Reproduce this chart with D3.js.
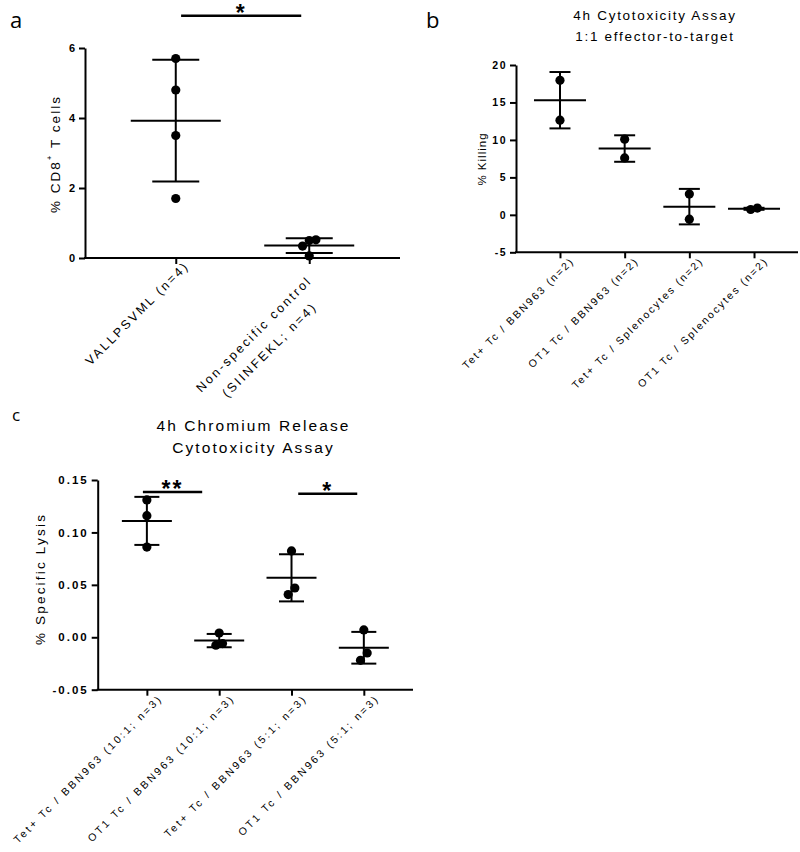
<!DOCTYPE html>
<html>
<head>
<meta charset="utf-8">
<script src="https://cdn.jsdelivr.net/npm/d3@7/dist/d3.min.js"></script>
<style>
  html, body { margin: 0; padding: 0; background: #fff; }
  svg { display: block; }
  text { font-family: "Liberation Sans", Arial, sans-serif; fill: #000; }
</style>
</head>
<body>
<svg id="chart" width="800" height="852"></svg>
<script>
// ---------------- DATA ----------------
const aCategories = ["VALLPSVML (n=4)", "Non-specific control\n(SIINFEKL; n=4)"];
const aValues = [[5.7, 4.8, 3.5, 1.7], [0.52, 0.5, 0.34, 0.06]];
const aTicks = [0, 2, 4, 6];
const aSig = [{ from: 0, to: 1, label: "*" }];

const bTitle = ["4h Cytotoxicity Assay", "1:1 effector-to-target"];
const bCategories = ["Tet+ Tc / BBN963 (n=2)", "OT1 Tc / BBN963 (n=2)", "Tet+ Tc / Splenocytes (n=2)", "OT1 Tc / Splenocytes (n=2)"];
const bValues = [[17.96, 12.64], [10.1, 7.6], [2.77, -0.58], [0.71, 0.9]];
const bTicks = [-5, 0, 5, 10, 15, 20];

const cTitle = ["4h Chromium Release", "Cytotoxicity Assay"];
const cCategories = ["Tet+ Tc / BBN963 (10:1; n=3)", "OT1 Tc / BBN963 (10:1; n=3)", "Tet+ Tc / BBN963 (5:1; n=3)", "OT1 Tc / BBN963 (5:1; n=3)"];
const cValues = [[0.131, 0.116, 0.086], [0.0041, -0.0076, -0.006], [0.0824, 0.0407, 0.047], [0.007, -0.022, -0.015]];
const cTicks = [-0.05, 0, 0.05, 0.10, 0.15];
const cSig = [{ from: 0, to: 1, label: "**" }, { from: 2, to: 3, label: "*" }];

// ---------------- DRAW ----------------
const svg = d3.select("#chart");
const FONT = '"Liberation Sans", Arial, sans-serif';

function drawPanel(cfg) {
  const g = svg.append("g");
  const x = d3.scalePoint().domain(cfg.categories).range(cfg.xRange).padding(0.68);
  const y = d3.scaleLinear().domain(cfg.domain).range(cfg.yRange);
  const step = x.step();

  // y axis
  const yAxis = d3.axisLeft(y).tickValues(cfg.ticks).tickSize(6).tickSizeOuter(0)
    .tickFormat(cfg.tickFormat).tickPadding(3);
  const ya = g.append("g").attr("transform", `translate(${cfg.xRange[0]},0)`).call(yAxis);
  ya.select(".domain").attr("stroke", "#000").attr("stroke-width", 2);
  ya.selectAll(".tick line").attr("stroke", "#000").attr("stroke-width", 2);
  ya.selectAll(".tick text").attr("fill", "#000")
    .style("font-family", FONT).style("font-size", cfg.tickFont + "px")
    .style("font-weight", "bold").style("letter-spacing", cfg.tickSpacing + "px");

  // x axis
  const xAxis = d3.axisBottom(x).tickSize(6).tickSizeOuter(0).tickFormat("");
  const xa = g.append("g").attr("transform", `translate(0,${cfg.yRange[0]})`).call(xAxis);
  xa.select(".domain").attr("stroke", "#000").attr("stroke-width", 2)
    .attr("d", `M${cfg.xRange[0] - 1},0H${cfg.xRange[1]}`);
  xa.selectAll(".tick line").attr("stroke", "#000").attr("stroke-width", 2);

  // rotated x labels
  cfg.categories.forEach(cat => {
    const lines = cat.split("\n");
    const lg = g.append("g")
      .attr("transform", `translate(${x(cat)},${cfg.yRange[0]}) rotate(-45)`);
    const texts = lines.map((ln, i) => lg.append("text")
      .attr("text-anchor", "end")
      .style("font-size", cfg.labelFont + "px")
      .style("letter-spacing", cfg.labelSpacing + "px")
      .attr("y", cfg.labelV + (lines.length - 1) * 3 + i * cfg.lineGap)
      .text(ln));
    const lens = texts.map(t => t.node().getComputedTextLength());
    const maxLen = d3.max(lens);
    texts.forEach((t, i) => {
      const shift = (lines.length - 1) * 18;
      t.attr("x", cfg.labelU - shift - (maxLen - lens[i]) / 2);
    });
  });

  // points, mean, SD
  cfg.values.forEach((vals, i) => {
    const cx = x(cfg.categories[i]);
    const m = d3.mean(vals), sd = d3.deviation(vals);
    g.append("line").attr("x1", cx).attr("x2", cx).attr("y1", y(m + sd)).attr("y2", y(m - sd))
      .attr("stroke", "#000").attr("stroke-width", 2);
    [m + sd, m - sd].forEach(v => g.append("line")
      .attr("x1", cx - cfg.capHalf).attr("x2", cx + cfg.capHalf)
      .attr("y1", y(v)).attr("y2", y(v)).attr("stroke", "#000").attr("stroke-width", 2));
    g.append("line").attr("x1", cx - cfg.meanHalf).attr("x2", cx + cfg.meanHalf)
      .attr("y1", y(m)).attr("y2", y(m)).attr("stroke", "#000").attr("stroke-width", 2);

    const sorted = vals.map(v => ({ v, py: y(v) })).sort((p, q) => d3.ascending(p.v, q.v));
    const clusters = [];
    sorted.forEach(p => {
      const last = clusters[clusters.length - 1];
      if (last && Math.abs(last[last.length - 1].py - p.py) < 2 * cfg.r) last.push(p);
      else clusters.push([p]);
    });
    clusters.forEach(cl => cl.forEach((p, k) => {
      p.px = cx + (k - (cl.length - 1) / 2) * cfg.r * 1.45;
    }));
    g.selectAll(null).data(sorted).enter().append("circle")
      .attr("cx", d => d.px).attr("cy", d => d.py).attr("r", cfg.r).attr("fill", "#000");
  });

  // significance bars
  (cfg.sig || []).forEach((s, k) => {
    const f = cfg.sigFrac[k];
    const x1 = x(cfg.categories[s.from]) + f[0] * step;
    const x2 = x(cfg.categories[s.from]) + f[1] * step;
    g.append("line").attr("x1", x1).attr("x2", x2).attr("y1", cfg.sigY[k]).attr("y2", cfg.sigY[k])
      .attr("stroke", "#000").attr("stroke-width", 2.5);
    g.append("text").attr("x", (x1 + x2) / 2).attr("y", cfg.sigY[k] + 5)
      .attr("text-anchor", "middle").style("font-size", "23px").style("letter-spacing", "2px")
      .style("font-weight", "bold")
      .text(s.label);
  });

  // title
  (cfg.title || []).forEach((t, i) => g.append("text")
    .attr("x", cfg.titleX).attr("y", cfg.titleY + i * cfg.titleGap)
    .attr("text-anchor", "middle").style("font-size", cfg.titleFont + "px")
    .style("letter-spacing", cfg.titleSpacing + "px").text(t));

  // y label
  const yl = g.append("text")
    .attr("transform", `translate(${cfg.yLabelX},${cfg.yLabelY}) rotate(-90)`)
    .attr("text-anchor", "middle").attr("dominant-baseline", "central")
    .style("font-size", cfg.yLabelFont + "px").style("letter-spacing", cfg.yLabelSpacing + "px");
  cfg.yLabel.forEach(part => {
    const ts = yl.append("tspan").text(part.t);
    if (part.sup) ts.style("font-size", (cfg.yLabelFont * 0.6) + "px").attr("dy", -6);
    if (part.after) ts.attr("dy", 6);
  });

  // panel letter
  g.append("text").attr("x", cfg.letterX).attr("y", cfg.letterY)
    .style("font-size", cfg.letterFont + "px").style("font-family", '"Open Sans", "Noto Sans", sans-serif')
    .text(cfg.letter);
}

drawPanel({
  categories: aCategories, values: aValues, ticks: aTicks, domain: [0, 6],
  xRange: [85, 400], yRange: [258, 48], tickFormat: d3.format("d"),
  tickFont: 11, tickSpacing: 1,
  labelFont: 12.5, labelSpacing: 2.4, labelU: 4, labelV: 16, lineGap: 22,
  meanHalf: 45, capHalf: 23.5, r: 4.6,
  sig: aSig, sigFrac: [[0.04, 0.94]], sigY: [15.7],
  yLabel: [{ t: "% CD8" }, { t: "+", sup: true }, { t: " T cells", after: true }],
  yLabelX: 55, yLabelY: 154, yLabelFont: 13.5, yLabelSpacing: 2,
  letter: "a", letterX: 10, letterY: 28, letterFont: 22
});

drawPanel({
  categories: bCategories, values: bValues, ticks: bTicks, domain: [-5, 20],
  xRange: [516, 798], yRange: [252.3, 65], tickFormat: d => String(d),
  tickFont: 10.5, tickSpacing: 1.5,
  labelFont: 10.5, labelSpacing: 2, labelU: 4, labelV: 17, lineGap: 14,
  meanHalf: 26, capHalf: 10.5, r: 4.6,
  title: bTitle, titleX: 655, titleY: 20, titleGap: 21, titleFont: 13.5, titleSpacing: 1.7,
  yLabel: [{ t: "% Killing" }],
  yLabelX: 482, yLabelY: 159, yLabelFont: 11.5, yLabelSpacing: 1,
  letter: "b", letterX: 426, letterY: 28, letterFont: 22
});

drawPanel({
  categories: cCategories, values: cValues, ticks: cTicks, domain: [-0.05, 0.15],
  xRange: [97.7, 413], yRange: [689.7, 480],
  tickFormat: d => d3.format(".2f")(d).replace("\u2212", "-"),
  tickFont: 11.5, tickSpacing: 2,
  labelFont: 10.5, labelSpacing: 2.5, labelU: 5, labelV: 18, lineGap: 14,
  meanHalf: 25, capHalf: 12.5, r: 4.6,
  sig: cSig, sigFrac: [[-0.055, 0.765], [0.093, 0.909]], sigY: [492, 493.7],
  title: cTitle, titleX: 253.5, titleY: 431, titleGap: 22, titleFont: 15.5, titleSpacing: 2.1,
  yLabel: [{ t: "% Specific Lysis" }],
  yLabelX: 40, yLabelY: 579, yLabelFont: 13.5, yLabelSpacing: 2.2,
  letter: "c", letterX: 12, letterY: 421, letterFont: 17
});
</script>
</body>
</html>
